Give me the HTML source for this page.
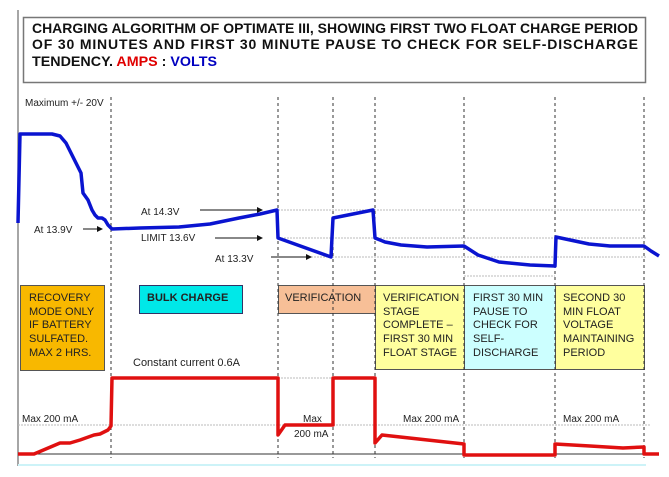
<!DOCTYPE html>
<html><head><meta charset="utf-8"><style>
html,body{margin:0;padding:0;background:#fff;}
svg{display:block;font-family:"Liberation Sans",Arial,sans-serif;}
</style></head><body>
<svg width="669" height="477" viewBox="0 0 669 477" xmlns="http://www.w3.org/2000/svg">
<rect width="669" height="477" fill="#fff"/>
<line x1="18" y1="10" x2="18" y2="466" stroke="#888" stroke-width="1.5"/>
<rect x="23.5" y="17.5" width="622" height="65" fill="#fff" stroke="#777" stroke-width="1.5"/>
<g font-size="14" font-weight="bold" fill="#111">
<text x="32" y="33" textLength="606" lengthAdjust="spacingAndGlyphs">CHARGING ALGORITHM OF OPTIMATE III, SHOWING FIRST TWO FLOAT CHARGE PERIOD</text>
<text x="32" y="49" textLength="606" lengthAdjust="spacing">OF 30 MINUTES AND FIRST 30 MINUTE PAUSE TO CHECK FOR SELF-DISCHARGE</text>
<text x="32" y="66" textLength="185" lengthAdjust="spacingAndGlyphs">TENDENCY. <tspan fill="#e00000">AMPS</tspan> : <tspan fill="#0000c0">VOLTS</tspan></text>
</g>
<rect x="20.5" y="285.5" width="84" height="85" fill="#f8b800" stroke="#555"/>
<rect x="139.5" y="285.5" width="103" height="28" fill="#00e8e8" stroke="#336"/>
<rect x="278.5" y="285.5" width="97" height="28" fill="#f7bf97" stroke="#555"/>
<rect x="375.5" y="285.5" width="89" height="84" fill="#ffff9e" stroke="#555"/>
<rect x="464.5" y="285.5" width="91" height="84" fill="#ccffff" stroke="#555"/>
<rect x="555.5" y="285.5" width="89" height="84" fill="#ffff9e" stroke="#555"/>
<g font-size="11" fill="#222">
<text x="29" y="301">RECOVERY</text><text x="29" y="315">MODE  ONLY</text><text x="29" y="328">IF BATTERY</text><text x="29" y="342">SULFATED.</text><text x="29" y="356">MAX 2 HRS.</text>
<text x="147" y="301" font-weight="bold">BULK CHARGE</text>
<text x="285" y="301">VERIFICATION</text>
<text x="383" y="301">VERIFICATION</text><text x="383" y="315">STAGE</text><text x="383" y="328">COMPLETE –</text><text x="383" y="342">FIRST  30  MIN</text><text x="383" y="356">FLOAT STAGE</text>
<text x="473" y="301">FIRST 30 MIN</text><text x="473" y="315">PAUSE TO</text><text x="473" y="328">CHECK FOR</text><text x="473" y="342">SELF-</text><text x="473" y="356">DISCHARGE</text>
<text x="563" y="301">SECOND 30</text><text x="563" y="315">MIN FLOAT</text><text x="563" y="328">VOLTAGE</text><text x="563" y="342">MAINTAINING</text><text x="563" y="356">PERIOD</text>
</g>
<g stroke="#333" stroke-width="1" stroke-dasharray="3,3">
<line x1="111" y1="97" x2="111" y2="458"/><line x1="278" y1="97" x2="278" y2="458"/>
<line x1="333" y1="97" x2="333" y2="458"/><line x1="375" y1="97" x2="375" y2="458"/>
<line x1="464" y1="97" x2="464" y2="458"/><line x1="555" y1="97" x2="555" y2="458"/>
<line x1="644" y1="97" x2="644" y2="458"/>
</g>
<g stroke="#bbb" stroke-width="1" stroke-dasharray="2,1">
<line x1="278" y1="210" x2="646" y2="210"/><line x1="278" y1="238" x2="646" y2="238"/>
<line x1="278" y1="257" x2="646" y2="257"/><line x1="464" y1="276" x2="555" y2="276"/>
<line x1="18" y1="425" x2="651" y2="425"/><line x1="278" y1="378" x2="333" y2="378"/>
</g>
<line x1="18" y1="454" x2="646" y2="454" stroke="#333" stroke-width="1"/>
<line x1="18" y1="465" x2="646" y2="465" stroke="#cdf3f8" stroke-width="2"/>
<g font-size="10" fill="#222">
<text x="25" y="106">Maximum +/- 20V</text>
<text x="34" y="233">At 13.9V</text>
<text x="141" y="215">At 14.3V</text>
<text x="141" y="241">LIMIT 13.6V</text>
<text x="215" y="262">At 13.3V</text>
<text x="133" y="366" font-size="11">Constant current  0.6A</text>
<text x="22" y="422">Max 200 mA</text>
<text x="303" y="422">Max</text>
<text x="294" y="437">200 mA</text>
<text x="403" y="422">Max 200 mA</text>
<text x="563" y="422">Max 200 mA</text>
</g>
<defs><marker id="ah" markerWidth="6" markerHeight="6" refX="5" refY="3" orient="auto"><path d="M0,0 L6,3 L0,6 z" fill="#111"/></marker></defs>
<g stroke="#111" stroke-width="1" marker-end="url(#ah)">
<line x1="83" y1="229" x2="102" y2="229"/>
<line x1="200" y1="210" x2="262" y2="210"/>
<line x1="215" y1="238" x2="262" y2="238"/>
<line x1="271" y1="257" x2="311" y2="257"/>
</g>
<polyline fill="none" stroke="#0a14d0" stroke-width="3.5" stroke-linejoin="round" points="18,223 20,134 52,134 60,136 66,143 72,155 76,163 81,173 83,193 88,200 92,210 95,215 98,218 102,218 105,220 108,225 112,229 140,228 179,227 210,224 239,218 260,214 277,210 278,238 331,257 333,218 373,210 375,238 385,242 401,245 427,247 464,246 478,255 499,262 530,265 555,266 556,237 589,244 610,246 644,246 651,251 659,256"/>
<polyline fill="none" stroke="#e01010" stroke-width="3.5" stroke-linejoin="round" points="18,454 34,454 60,443 70,443 80,440 94,435 100,434 108,430 111,426 112,378 278,378 278,435 285,425 333,425 333,378 375,378 375,443 382,435 464,444 464,455 555,455 555,444 590,446 623,448 644,447 644,454 659,454"/>
</svg>
</body></html>
